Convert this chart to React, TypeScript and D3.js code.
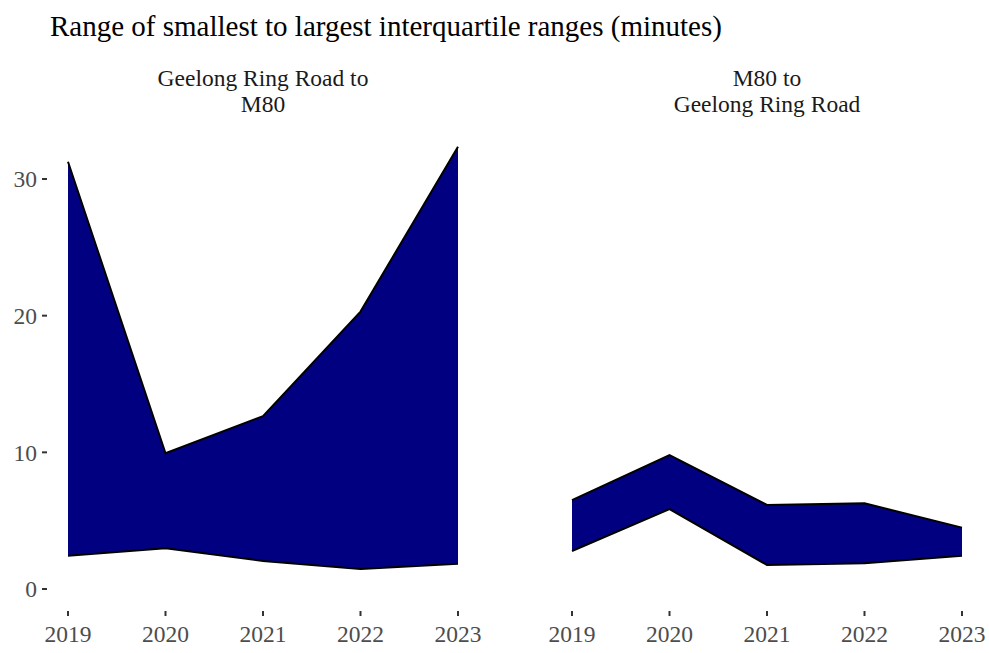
import React from "react";
import * as d3 from "d3";

const years = [2019, 2020, 2021, 2022, 2023];
const panelTitles = [
  ["Geelong Ring Road to", "M80"],
  ["M80 to", "Geelong Ring Road"],
];
const leftLow = [2.44, 2.98, 2.05, 1.46, 1.85];
const leftHigh = [31.26, 9.93, 12.65, 20.3, 32.36];
const rightLow = [2.78, 5.85, 1.76, 1.88, 2.44];
const rightHigh = [6.5, 9.8, 6.15, 6.27, 4.49];
const yTicks = [0, 10, 20, 30];

const W = 989;
const H = 653;
const FONT = "'Liberation Serif', 'Times New Roman', serif";

const App: React.FC = () => {
  const y = d3.scaleLinear().domain([0, 30]).range([589, 179]);
  const panels = [
    { range: [68, 458], low: leftLow, high: leftHigh, title: panelTitles[0] },
    { range: [572, 962], low: rightLow, high: rightHigh, title: panelTitles[1] },
  ];

  return (
    <svg
      width={W}
      height={H}
      style={{ position: "absolute", left: 0, top: 0, background: "#fff" }}
      fontFamily={FONT}
    >
      <text x={50} y={36} fontSize={29} fill="#000">
        Range of smallest to largest interquartile ranges (minutes)
      </text>

      {/* y axis */}
      {yTicks.map((t) => (
        <g key={t}>
          <line x1={42} x2={47} y1={y(t)} y2={y(t)} stroke="#333" strokeWidth={2} />
          <text
            x={37}
            y={y(t)}
            dy="0.35em"
            textAnchor="end"
            fontSize={23.5}
            fill="#4d4d4d"
          >
            {t}
          </text>
        </g>
      ))}

      {panels.map((p, i) => {
        const x = d3.scalePoint<number>().domain(years).range(p.range as [number, number]);
        const rows = years.map((yr, j) => ({ yr, lo: p.low[j], hi: p.high[j] }));
        const area = d3
          .area<(typeof rows)[number]>()
          .x((d) => x(d.yr)!)
          .y0((d) => y(d.lo))
          .y1((d) => y(d.hi));
        const hiLine = d3
          .line<(typeof rows)[number]>()
          .x((d) => x(d.yr)!)
          .y((d) => y(d.hi));
        const loLine = d3
          .line<(typeof rows)[number]>()
          .x((d) => x(d.yr)!)
          .y((d) => y(d.lo));
        const cx = (p.range[0] + p.range[1]) / 2;
        return (
          <g key={i}>
            <text textAnchor="middle" fontSize={23.5} fill="#1a1a1a">
              <tspan x={cx} y={86}>{p.title[0]}</tspan>
              <tspan x={cx} y={112}>{p.title[1]}</tspan>
            </text>
            <path d={area(rows)!} fill="#000080" />
            <path d={hiLine(rows)!} fill="none" stroke="#000" strokeWidth={2} />
            <path d={loLine(rows)!} fill="none" stroke="#000" strokeWidth={2} />
            {years.map((yr) => (
              <g key={yr}>
                <line
                  x1={x(yr)}
                  x2={x(yr)}
                  y1={611}
                  y2={616}
                  stroke="#333"
                  strokeWidth={2}
                />
                <text
                  x={x(yr)}
                  y={642}
                  textAnchor="middle"
                  fontSize={23.5}
                  fill="#4d4d4d"
                >
                  {yr}
                </text>
              </g>
            ))}
          </g>
        );
      })}
    </svg>
  );
};

export default App;
